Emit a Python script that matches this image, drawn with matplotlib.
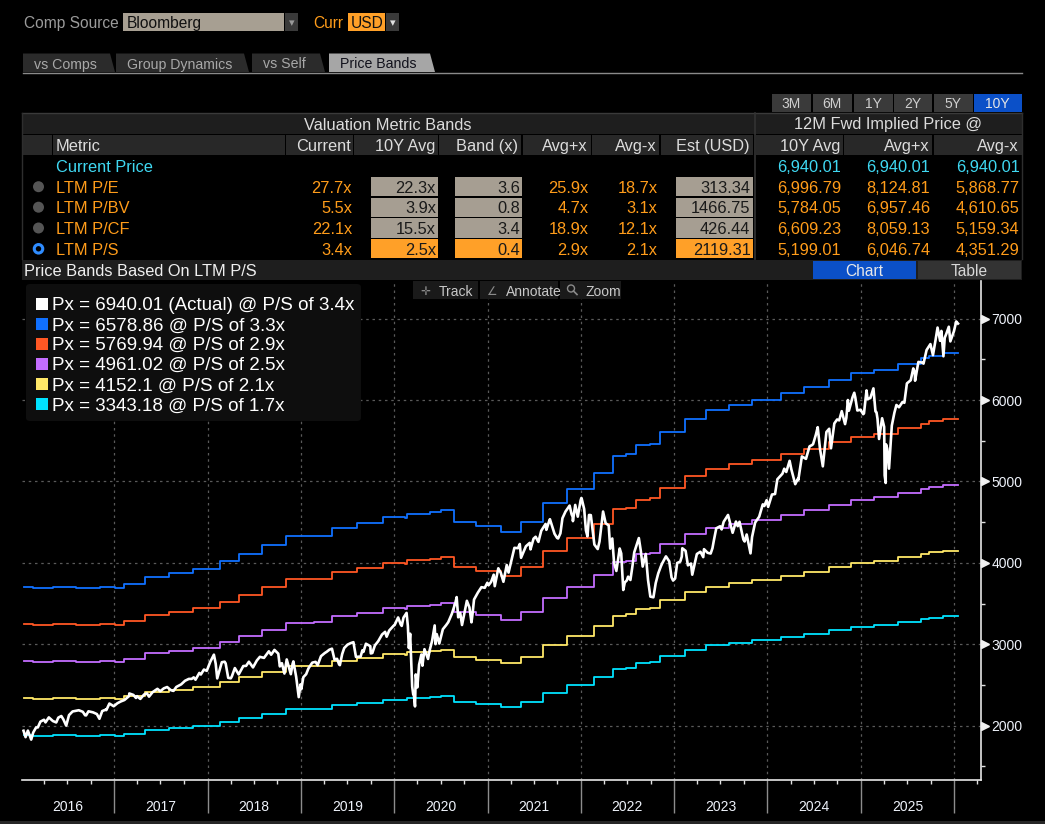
import numpy as np
import pandas as pd
import matplotlib
matplotlib.use('Agg')
import matplotlib.pyplot as plt
import matplotlib.transforms as mtrans
import matplotlib.dates as mdates
from matplotlib.patches import Rectangle, Polygon, Ellipse, FancyBboxPatch

plt.rcParams['font.family'] = ['Liberation Sans', 'DejaVu Sans']

# --- Price history (index level) ---
price_dates = [
    '2016-01-12', '2016-01-20', '2016-01-29', '2016-02-11', '2016-02-19', '2016-03-01', '2016-03-18',
    '2016-04-01', '2016-04-20', '2016-05-06', '2016-05-19', '2016-06-08', '2016-06-27', '2016-07-08',
    '2016-07-22', '2016-08-15', '2016-08-31', '2016-09-09', '2016-09-22', '2016-10-10', '2016-10-25',
    '2016-11-04', '2016-11-15', '2016-11-30', '2016-12-13', '2016-12-30',
    '2017-01-13', '2017-01-26', '2017-02-10', '2017-02-28', '2017-03-01', '2017-03-17', '2017-03-31',
    '2017-04-13', '2017-04-28', '2017-05-17', '2017-05-31', '2017-06-19', '2017-06-30', '2017-07-14',
    '2017-07-27', '2017-08-10', '2017-08-21', '2017-09-01', '2017-09-20', '2017-10-05', '2017-10-20',
    '2017-11-08', '2017-11-15', '2017-11-30', '2017-12-18', '2017-12-29',
    '2018-01-12', '2018-01-26', '2018-02-02', '2018-02-08', '2018-02-26', '2018-03-09', '2018-03-23',
    '2018-04-02', '2018-04-18', '2018-05-03', '2018-05-21', '2018-06-12', '2018-06-28', '2018-07-13',
    '2018-07-25', '2018-08-10', '2018-08-29', '2018-09-20', '2018-10-05', '2018-10-11', '2018-10-19',
    '2018-10-29', '2018-11-07', '2018-11-23', '2018-12-03', '2018-12-14', '2018-12-24', '2018-12-31',
    '2019-01-11', '2019-01-31', '2019-02-15', '2019-02-28', '2019-03-08', '2019-03-21', '2019-04-05',
    '2019-04-23', '2019-05-03', '2019-05-13', '2019-05-31', '2019-06-03', '2019-06-20', '2019-07-03',
    '2019-07-26', '2019-08-05', '2019-08-15', '2019-08-30', '2019-09-13', '2019-09-30', '2019-10-02',
    '2019-10-18', '2019-10-31', '2019-11-15', '2019-11-27', '2019-12-13', '2019-12-31',
    '2020-01-17', '2020-01-31', '2020-02-07', '2020-02-19', '2020-02-28', '2020-03-06', '2020-03-12',
    '2020-03-16', '2020-03-23', '2020-03-26', '2020-04-08', '2020-04-17', '2020-04-29', '2020-05-13',
    '2020-05-29', '2020-06-08', '2020-06-11', '2020-06-26', '2020-07-10', '2020-07-31', '2020-08-14',
    '2020-09-02', '2020-09-08', '2020-09-23', '2020-10-12', '2020-10-30', '2020-11-09', '2020-11-24',
    '2020-12-08', '2020-12-31',
    '2021-01-15', '2021-01-29', '2021-02-12', '2021-03-04', '2021-03-17', '2021-03-31', '2021-04-16',
    '2021-04-30', '2021-05-12', '2021-05-31', '2021-06-15', '2021-06-30', '2021-07-19', '2021-07-30',
    '2021-08-16', '2021-08-31', '2021-09-02', '2021-09-20', '2021-10-04', '2021-10-21', '2021-11-02',
    '2021-11-18', '2021-11-30', '2021-12-10', '2021-12-20', '2021-12-31',
    '2022-01-03', '2022-01-14', '2022-01-27', '2022-02-09', '2022-02-23', '2022-03-08', '2022-03-29',
    '2022-04-08', '2022-04-26', '2022-05-04', '2022-05-11', '2022-05-20', '2022-05-31', '2022-06-08',
    '2022-06-16', '2022-06-30', '2022-07-14', '2022-07-29', '2022-08-16', '2022-08-31', '2022-09-12',
    '2022-09-30', '2022-10-12', '2022-10-31', '2022-11-15', '2022-11-30', '2022-12-13', '2022-12-28',
    '2023-01-13', '2023-01-31', '2023-02-02', '2023-02-24', '2023-03-08', '2023-03-13', '2023-03-31',
    '2023-04-14', '2023-04-28', '2023-05-12', '2023-05-31', '2023-06-15', '2023-06-30', '2023-07-14',
    '2023-07-31', '2023-08-18', '2023-08-31', '2023-09-14', '2023-09-29', '2023-10-12', '2023-10-27',
    '2023-11-14', '2023-11-30', '2023-12-14', '2023-12-29',
    '2024-01-04', '2024-01-19', '2024-01-31', '2024-02-09', '2024-02-29', '2024-03-15', '2024-03-28',
    '2024-04-04', '2024-04-19', '2024-04-30', '2024-05-15', '2024-05-31', '2024-06-14', '2024-06-28',
    '2024-07-16', '2024-07-25', '2024-08-05', '2024-08-19', '2024-09-06', '2024-09-19', '2024-09-30',
    '2024-10-18', '2024-10-31', '2024-11-11', '2024-11-15', '2024-11-29', '2024-12-06', '2024-12-18',
    '2024-12-31',
    '2025-01-10', '2025-01-23', '2025-01-27', '2025-02-07', '2025-02-19', '2025-03-03', '2025-03-13',
    '2025-03-25', '2025-04-04', '2025-04-08', '2025-04-09', '2025-04-21', '2025-05-02', '2025-05-12',
    '2025-05-30', '2025-06-13', '2025-06-30', '2025-07-15', '2025-07-31', '2025-08-14', '2025-08-29',
    '2025-09-15', '2025-09-30', '2025-10-10', '2025-10-28', '2025-11-07', '2025-11-20', '2025-12-01',
    '2025-12-11', '2025-12-17', '2025-12-31', '2026-01-09', '2026-01-16',
]
price_values = [
    1938, 1859, 1940, 1829, 1917, 1978, 2050,
    2073, 2102, 2057, 2040, 2119, 2001, 2130,
    2175, 2190, 2171, 2128, 2177, 2164, 2143,
    2085, 2180, 2199, 2272, 2239,
    2275, 2297, 2316, 2364, 2396, 2378, 2363,
    2329, 2384, 2357, 2412, 2453, 2423, 2459,
    2475, 2438, 2428, 2476, 2508, 2552, 2575,
    2594, 2565, 2648, 2690, 2674,
    2786, 2873, 2762, 2581, 2780, 2786, 2588,
    2582, 2708, 2630, 2733, 2786, 2716, 2801,
    2846, 2833, 2914, 2931, 2885, 2728, 2768,
    2641, 2814, 2633, 2790, 2599, 2351, 2507,
    2596, 2704, 2775, 2784, 2743, 2854, 2893,
    2934, 2946, 2812, 2752, 2744, 2954, 2996,
    3026, 2844, 2848, 2926, 3007, 2977, 2888,
    2986, 3038, 3120, 3153, 3169, 3231,
    3330, 3226, 3328, 3386, 2954, 2972, 2481,
    2386, 2237, 2630, 2750, 2875, 2940, 2820,
    3044, 3232, 3002, 3009, 3185, 3271, 3373,
    3580, 3332, 3237, 3534, 3270, 3550, 3635,
    3702, 3756,
    3768, 3714, 3934, 3768, 3974, 3973, 4185,
    4181, 4063, 4204, 4246, 4298, 4258, 4395,
    4479, 4523, 4537, 4358, 4300, 4549, 4631,
    4704, 4567, 4712, 4568, 4766,
    4797, 4662, 4326, 4587, 4225, 4170, 4631,
    4488, 4175, 4300, 4001, 3901, 4132, 4116,
    3667, 3785, 3790, 4130, 4305, 3955, 4110,
    3586, 3577, 3872, 3992, 4080, 4019, 3783,
    3999, 4077, 4180, 3970, 3992, 3855, 4109,
    4137, 4169, 4124, 4180, 4425, 4450, 4505,
    4589, 4370, 4508, 4505, 4288, 4349, 4117,
    4495, 4568, 4719, 4770,
    4688, 4840, 4846, 5027, 5096, 5117, 5254,
    5147, 4967, 5036, 5308, 5278, 5432, 5460,
    5667, 5400, 5186, 5608, 5408, 5713, 5762,
    5864, 5705, 6001, 5870, 6032, 6090, 5872,
    5882,
    5827, 6119, 6012, 6026, 6144, 5850, 5522,
    5777, 5074, 4982, 5457, 5158, 5687, 5844,
    5912, 5977, 6205, 6244, 6339, 6469, 6460,
    6615, 6688, 6552, 6891, 6728, 6538, 6812,
    6901, 6721, 6845, 6966, 6940.01,
]
# extra readings between the points above (merged and sorted below)
price_dates_extra = [
    '2016-03-08', '2016-04-07', '2016-05-27', '2016-06-16', '2016-09-13', '2016-12-01',
    '2017-03-27', '2017-05-09', '2017-06-09', '2017-08-17', '2017-10-31', '2017-12-06',
    '2018-01-03', '2018-03-13', '2018-04-06', '2018-06-01', '2018-09-07', '2018-11-30',
    '2019-01-03', '2019-01-22', '2019-04-12', '2019-05-23', '2019-06-12', '2019-07-15',
    '2019-08-23', '2019-09-03', '2019-10-08', '2019-12-03',
    '2020-01-03', '2020-01-27', '2020-02-24', '2020-03-04', '2020-03-09', '2020-03-18',
    '2020-04-01', '2020-04-21', '2020-05-19', '2020-06-16', '2020-07-23', '2020-08-28',
    '2020-09-16', '2020-10-22', '2020-11-03', '2020-12-21',
    '2021-01-05', '2021-01-25', '2021-02-22', '2021-03-24', '2021-05-07', '2021-05-19',
    '2021-06-18', '2021-07-08', '2021-08-19', '2021-09-30', '2021-10-13', '2021-11-26',
    '2021-12-01',
    '2022-01-04', '2022-01-21', '2022-02-02', '2022-03-15', '2022-04-20', '2022-06-02',
    '2022-06-22', '2022-07-05', '2022-07-22', '2022-08-24', '2022-09-21', '2022-10-21',
    '2022-11-10', '2022-12-01', '2022-12-22',
    '2023-01-05', '2023-01-25', '2023-02-15', '2023-04-25', '2023-05-24', '2023-06-06',
    '2023-07-06', '2023-07-26', '2023-09-07', '2023-10-04', '2023-11-02', '2023-12-20',
    '2024-03-07', '2024-05-01', '2024-06-24', '2024-07-09', '2024-08-30', '2024-10-08',
    '2024-11-05', '2024-12-10',
    '2025-01-02', '2025-01-13', '2025-02-27', '2025-03-07', '2025-04-02', '2025-04-14',
    '2025-05-20', '2025-06-20', '2025-07-25', '2025-08-01', '2025-09-03', '2025-10-20',
    '2025-11-12', '2025-11-25',
]
price_values_extra = [
    1979, 2041, 2099, 2077, 2127, 2191,
    2341, 2397, 2432, 2430, 2575, 2629,
    2713, 2765, 2604, 2735, 2872, 2760,
    2448, 2633, 2907, 2822, 2880, 3014,
    2847, 2906, 2893, 3093,
    3235, 3244, 3226, 3130, 2746, 2398,
    2470, 2737, 2922, 3125, 3236, 3508,
    3385, 3453, 3369, 3694,
    3726, 3855, 3876, 3881, 4232, 4116,
    4166, 4321, 4406, 4307, 4363, 4595,
    4513,
    4794, 4398, 4589, 4262, 4460, 4177,
    3760, 3831, 3962, 4140, 3789, 3752,
    3956, 4076, 3822,
    3808, 4016, 4148, 4071, 4115, 4283,
    4411, 4566, 4451, 4263, 4317, 4699,
    5157, 5018, 5448, 5577, 5648, 5751,
    5782, 6034,
    5869, 5836, 5861, 5770, 5671, 5405,
    5940, 5967, 6389, 6238, 6448, 6735,
    6850, 6765,
]

# --- LTM sales per share (step series behind the bands) ---
sales_dates = [
    '2016-01-12', '2016-02-17', '2016-05-06', '2016-08-06', '2016-11-05', '2017-01-03', '2017-02-09',
    '2017-05-01', '2017-08-03', '2017-11-06', '2018-02-19', '2018-05-05', '2018-08-03', '2018-11-06',
    '2019-02-23', '2019-05-05', '2019-08-08', '2019-11-19', '2020-02-11', '2020-02-20', '2020-05-19',
    '2020-07-03', '2020-08-21', '2020-11-18', '2021-02-22', '2021-05-10', '2021-08-05', '2021-11-07',
    '2022-02-23', '2022-05-06', '2022-06-27', '2022-08-03', '2022-09-28', '2022-11-06', '2023-02-12',
    '2023-05-06', '2023-08-03', '2023-11-02', '2024-02-22', '2024-05-23', '2024-08-30', '2024-11-23',
    '2025-02-21', '2025-05-27', '2025-08-25', '2025-09-26', '2025-11-19', '2026-01-16',
]
sales_ps = [
    1139, 1136, 1138, 1134, 1138, 1135, 1150,
    1178, 1190, 1206, 1235, 1265, 1297, 1331,
    1333, 1363, 1380, 1403, 1398, 1413, 1420,
    1428, 1383, 1369, 1347, 1383, 1455, 1510,
    1569, 1633, 1640, 1673, 1680, 1725, 1774,
    1806, 1826, 1843, 1870, 1893, 1922, 1945,
    1959, 1982, 2002, 2011, 2022.3, 2022.3,
]

# --- Legend / band values ---
current_price = 6940.01
current_ps = 3.4
band_px_last = [6578.86, 5769.94, 4961.02, 4152.1, 3343.18]
band_mult_labels = ['3.3x', '2.9x', '2.5x', '2.1x', '1.7x']
band_colors = ['#1070ff', '#ff5724', '#c46dff', '#ffe868', '#00e2ff']

# --- Valuation table ---
metrics = ['LTM P/E', 'LTM P/BV', 'LTM P/CF', 'LTM P/S']
cur_mult = [27.7, 5.5, 22.1, 3.4]
avg_mult = [22.3, 3.9, 15.5, 2.5]
band_x = [3.6, 0.8, 3.4, 0.4]
avg_plus = [25.9, 4.7, 18.9, 2.9]
avg_minus = [18.7, 3.1, 12.1, 2.1]
est_usd = [313.34, 1466.75, 426.44, 2119.31]
fwd_avg = [6996.79, 5784.05, 6609.23, 5199.01]
fwd_plus = [8124.81, 6957.46, 8059.13, 6046.74]
fwd_minus = [5868.77, 4610.65, 5159.34, 4351.29]
periods = ['3M', '6M', '1Y', '2Y', '5Y', '10Y']

years = list(range(2016, 2026))
y_major = [2000, 3000, 4000, 5000, 6000, 7000]
y_minor = [1500, 2500, 3500, 4500, 5500, 6500]

# --- Figure helpers (pixel coords, y from top) ---
W, H = 1045, 824
fig = plt.figure(figsize=(W / 100, H / 100), dpi=100, facecolor='black')

ORANGE = '#ffa028'
BEIGE = '#a69e92'
CYAN = '#3fd8f2'
BLUE_BTN = '#0b50c8'


def fx(x):
    return x / W


def fy(y):
    return 1 - y / H


def rect(x0, y0, x1, y1, color, z=1):
    fig.add_artist(Rectangle((fx(x0), fy(y1)), (x1 - x0) / W, (y1 - y0) / H,
                             transform=fig.transFigure, facecolor=color,
                             edgecolor='none', zorder=z))


def txt(x, y, s, color, size, ha='left', z=5, family=None):
    kw = {}
    if family:
        kw['family'] = family
    fig.text(fx(x), fy(y), s, color=color, fontsize=size, ha=ha,
             va='center_baseline', zorder=z, **kw)


def hline(x0, x1, y, color, lw=1.0):
    fig.add_artist(plt.Line2D([fx(x0), fx(x1)], [fy(y), fy(y)],
                              transform=fig.transFigure, color=color, lw=lw))


def vline(x, y0, y1, color, lw=1.0):
    fig.add_artist(plt.Line2D([fx(x), fx(x)], [fy(y0), fy(y1)],
                              transform=fig.transFigure, color=color, lw=lw))


# --- Header ---
txt(24, 22, 'Comp Source', '#9b9b9b', 11.2)
rect(123, 13, 284, 31, '#a79f92')
txt(127, 22, 'Bloomberg', '#111111', 11.2)
rect(285, 13, 298, 31, '#3a3a3a')
txt(291.5, 22, '\u25be', '#9a9a9a', 8, ha='center', family=['DejaVu Sans'])
txt(313, 22, 'Curr', '#ff9c1a', 11.2)
rect(348, 13, 385, 31, ORANGE)
txt(351, 22, 'USD', '#111111', 11.2)
rect(386, 13, 399, 31, '#3a3a3a')
txt(392.5, 22, '\u25be', '#e0e0e0', 8, ha='center', family=['DejaVu Sans'])

tabs = [('vs Comps', 23, 115, False), ('Group Dynamics', 116, 249, False),
        ('vs Self', 252, 325, False), ('Price Bands', 329, 435, True)]
for label, x0, x1, sel in tabs:
    poly = [(fx(x0), fy(72)), (fx(x0), fy(53.5)), (fx(x1 - 5), fy(53.5)), (fx(x1), fy(72))]
    fig.add_artist(Polygon(poly, closed=True, transform=fig.transFigure,
                           facecolor='#a6a6a6' if sel else '#2b2b2b', edgecolor='none'))
    txt(x0 + 11, 63, label, '#12121c' if sel else '#a8a8a8', 10.2)
hline(23, 1022, 72.5, '#8a8a8a', 1.0)

# period buttons
btn_x = [(772, 811), (812.5, 852), (854, 892.5), (894, 932), (934, 972.5), (974, 1021.5)]
for p, (x0, x1) in zip(periods, btn_x):
    active = p == '10Y'
    rect(x0, 94, x1, 112, BLUE_BTN if active else '#3a3a3a')
    txt((x0 + x1) / 2, 103, p, '#e6e6e6' if active else '#cfcfcf', 10, ha='center')

# --- Valuation table ---
rect(22, 113, 1022, 133.5, '#1e1e1e')
hline(22, 1022, 113, '#3a3a3a', 1.0)
vline(754.5, 113, 259, '#333333', 1.2)
txt(388, 123.5, 'Valuation Metric Bands', '#dcdcdc', 11.8, ha='center')
txt(888, 123.5, '12M Fwd Implied Price @', '#dcdcdc', 11.8, ha='center')

hdr = [(22, 52, '', None), (53, 285, 'Metric', 56), (286, 352.5, 'Current', 350.5),
       (354, 437.5, '10Y Avg', 435.5), (439, 521, 'Band (x)', 518),
       (523, 590.5, 'Avg+x', 588), (592, 659, 'Avg-x', 656.5),
       (660.5, 752.5, 'Est (USD)', 750), (755.5, 842.5, '10Y Avg', 840.5),
       (844, 932, 'Avg+x', 929.5), (933.5, 1021.5, 'Avg-x', 1019)]
for x0, x1, label, tx in hdr:
    rect(x0, 134.5, x1, 155, '#282828')
    if label:
        txt(tx, 145, label, '#dcdcdc', 11.8, ha='left' if label == 'Metric' else 'right')
vline(22, 113, 259, '#2e2e2e', 1.0)
vline(1022, 113, 259, '#2e2e2e', 1.0)

# current price row
txt(56.5, 165.5, 'Current Price', CYAN, 11.8)
for xr in (841, 930, 1019.5):
    txt(xr, 165.5, f'{current_price:,.2f}', CYAN, 11.8, ha='right')

row_y = [186.7, 207.2, 228.0, 248.8]
for i, m in enumerate(metrics):
    y = row_y[i]
    sel = m == 'LTM P/S'
    box = ORANGE if sel else BEIGE
    if sel:
        fig.add_artist(Ellipse((fx(38.5), fy(y)), 8.5 / W, 8.5 / H, transform=fig.transFigure,
                               facecolor='black', edgecolor='#2f8cff', lw=2.2))
    else:
        fig.add_artist(Ellipse((fx(38.5), fy(y)), 11 / W, 11 / H, transform=fig.transFigure,
                               facecolor='#555555', edgecolor='none'))
    txt(56.5, y, m, '#ff9c1a', 11.8)
    txt(352, y, f'{cur_mult[i]:.1f}x', '#ff9c1a', 11.8, ha='right')
    rect(371, y - 9.5, 438, y + 9.5, box)
    txt(436, y, f'{avg_mult[i]:.1f}x', '#1a1a1a', 11.8, ha='right')
    rect(455, y - 9.5, 522, y + 9.5, box)
    txt(520, y, f'{band_x[i]:.1f}', '#1a1a1a', 11.8, ha='right')
    txt(588.5, y, f'{avg_plus[i]:.1f}x', '#ff9c1a', 11.8, ha='right')
    txt(657.5, y, f'{avg_minus[i]:.1f}x', '#ff9c1a', 11.8, ha='right')
    rect(676, y - 9.5, 752.5, y + 9.5, box)
    txt(750.5, y, f'{est_usd[i]:.2f}', '#1a1a1a', 11.8, ha='right')
    txt(841, y, f'{fwd_avg[i]:,.2f}', '#ff9c1a', 11.8, ha='right')
    txt(930, y, f'{fwd_plus[i]:,.2f}', '#ff9c1a', 11.8, ha='right')
    txt(1019.5, y, f'{fwd_minus[i]:,.2f}', '#ff9c1a', 11.8, ha='right')

# chart title bar and Chart/Table buttons
rect(22, 259.5, 812, 280, '#1e1e1e')
txt(24, 270, 'Price Bands Based On LTM P/S', '#f0f0f0', 11.8)
rect(812, 259.5, 1022, 280, '#1e1e1e')
rect(813, 261, 916, 279, BLUE_BTN)
txt(864.5, 270, 'Chart', '#e8e8e8', 11.2, ha='center')
rect(917.5, 261, 1021, 279, '#333333')
txt(969, 270, 'Table', '#d8d8d8', 11.2, ha='center')

# --- Chart ---
ax = fig.add_axes([fx(22), fy(780), (981 - 22) / W, (780 - 281) / H])
ax.set_facecolor('black')

px = pd.Series(price_values + price_values_extra,
               index=pd.to_datetime(price_dates + price_dates_extra)).sort_index()
sdates = pd.to_datetime(sales_dates)
sales = np.array(sales_ps, dtype=float)
multiples = [v / sales[-1] for v in band_px_last]

for mult, col in zip(multiples, band_colors):
    ax.step(sdates, sales * mult, where='post', color=col, lw=1.3, zorder=3)
ax.plot(px.index, px.values, color='white', lw=1.9, zorder=5, solid_joinstyle='round')

ax.set_xlim(pd.Timestamp('2016-01-06'), pd.Timestamp('2026-04-16'))
ax.set_ylim(1333, 7463)

ax.xaxis.set_major_locator(mdates.YearLocator())
ax.xaxis.set_minor_locator(mdates.MonthLocator(bymonth=[4, 7, 10]))
ax.xaxis.set_major_formatter(plt.NullFormatter())
ax.tick_params(axis='x', which='major', length=24, width=1.0, color='#8c8c8c', direction='out')
ax.tick_params(axis='x', which='minor', length=3, width=1.0, color='#e0e0e0', direction='out')

ax.yaxis.tick_right()
ax.set_yticks(y_major)
ax.set_yticks(y_minor, minor=True)
ax.tick_params(axis='y', which='major', length=0, pad=7.5, labelsize=10, labelcolor='#eef2fa')
ax.tick_params(axis='y', which='minor', length=3, width=1.0, color='#e0e0e0', direction='out')

ax.grid(True, which='major', color='#5a5a5a', linestyle=(0, (2, 3)), lw=0.9)
ax.set_axisbelow(True)

for side in ('left', 'top'):
    ax.spines[side].set_visible(False)
for side in ('right', 'bottom'):
    ax.spines[side].set_color('#e6e6e6')
    ax.spines[side].set_linewidth(1.2)

# arrow markers at major y ticks
blend_y = mtrans.blended_transform_factory(ax.transAxes, ax.transData)
ax.plot([1.0] * len(y_major), y_major, linestyle='none', marker='>', markersize=5.5,
        color='#f2f2f2', clip_on=False, zorder=6,
        transform=mtrans.offset_copy(blend_y, fig=fig, x=3.5, units='dots'))

blend_x = mtrans.blended_transform_factory(ax.transData, ax.transAxes)
for yr in years:
    ax.text(pd.Timestamp(f'{yr}-07-02'), -0.055, str(yr), transform=blend_x, ha='center',
            va='center', color='#eef2fa', fontsize=10)

# bottom strip
rect(0, 821, 1045, 824, '#262626')

# toolbar
tools = [('Track', '\u271b', 413, 478), ('Annotate', '\u2220', 480, 558), ('Zoom', '', 560, 621)]
for label, icon, x0, x1 in tools:
    rect(x0, 281, x1, 299, '#1a1a1a', z=2)
    if icon:
        txt(x0 + 12, 290, icon, '#8a8a8a', 8.5, ha='center', z=6, family=['DejaVu Sans'])
    txt(x0 + 26, 290, label, '#c8c8c8', 10, z=6)
fig.add_artist(Ellipse((fx(571), fy(288.5)), 7 / W, 7 / H, transform=fig.transFigure,
                       facecolor='none', edgecolor='#8a8a8a', lw=1.0, zorder=6))
fig.add_artist(plt.Line2D([fx(573.5), fx(577)], [fy(291), fy(294.5)], transform=fig.transFigure,
                          color='#8a8a8a', lw=1.2, zorder=6))

# legend
fig.add_artist(FancyBboxPatch((fx(26), fy(421)), (361 - 26) / W, (421 - 284) / H,
                              boxstyle='round,pad=0,rounding_size=0.004',
                              transform=fig.transFigure, facecolor='#0e0e0e',
                              edgecolor='none', zorder=4))
leg_labels = [f'Px = {current_price} (Actual) @ P/S of {current_ps}x']
leg_labels += [f'Px = {v} @ P/S of {m}' for v, m in zip(band_px_last, band_mult_labels)]
leg_colors = ['#ffffff'] + band_colors
leg_y = [303.7, 324, 343.8, 363.8, 384, 404]
for lab, col, y in zip(leg_labels, leg_colors, leg_y):
    rect(36, y - 6, 48, y + 6, col, z=5)
    txt(52.5, y, lab, '#ffffff', 13.5, z=6)

fig.savefig('out.png', dpi=100, facecolor='black')
